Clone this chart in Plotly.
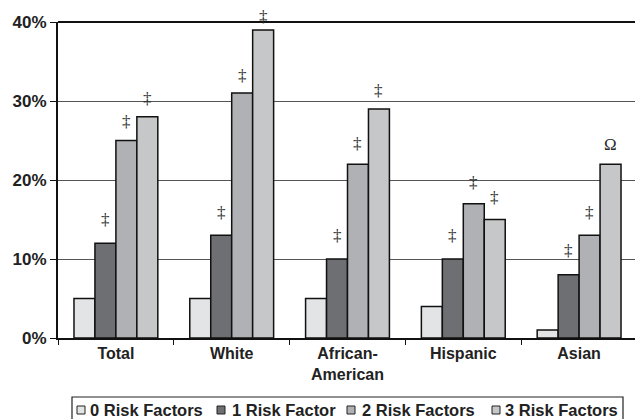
import plotly.graph_objects as go

categories = ["Total", "White", "African-<br>American", "Hispanic", "Asian"]
series_names = ["0 Risk Factors", "1 Risk Factor", "2 Risk Factors", "3 Risk Factors"]
risk0 = [5, 5, 5, 4, 1]
risk1 = [12, 13, 10, 10, 8]
risk2 = [25, 31, 22, 17, 13]
risk3 = [28, 39, 29, 15, 22]
marks1 = ["‡", "‡", "‡", "‡", "‡"]
marks2 = ["‡", "‡", "‡", "‡", "‡"]
marks3 = ["‡", "‡", "‡", "‡", "Ω"]
y_ticks = [0, 10, 20, 30, 40]
y_tick_labels = ["0%", "10%", "20%", "30%", "40%"]

colors = ["#e3e4e6", "#6e6f73", "#b0b1b4", "#c6c7c9"]
values = [risk0, risk1, risk2, risk3]
marks = [None, marks1, marks2, marks3]

# the page body has an 8px margin; size the figure so it fills the window
OFF = 8
W, H = 643 - OFF, 419 - OFF
L, R, T, B = 58 - OFF, 6, 22 - OFF, 81
PW, PH = W - L - R, H - T - B
YMAX = 40


def px(x):
    return (x - OFF - L) / PW


def py(y):
    return (H - B - (y - OFF)) / PH


bargap = 0.276
fig = go.Figure()
for name, vals, col in zip(series_names, values, colors):
    fig.add_trace(go.Bar(
        x=categories, y=vals, name=name, showlegend=False,
        marker=dict(color=col, line=dict(color="#111111", width=1.5)),
    ))

w = (1 - bargap) / 4
annotations = []
shapes = []
MARK_SIZE = 17
for j in range(1, 4):
    for i, (v, m) in enumerate(zip(values[j], marks[j])):
        omega = (m == "Ω")
        # keep the mark's text box inside the figure
        room = T + PH * (1 - v / YMAX) - 1.16 * MARK_SIZE
        shift = 8 if omega else min(round(15 - 0.28 * v), int(room))
        annotations.append(dict(
            x=i + (j - 1.5) * w, y=v, xref="x", yref="y",
            text=m, showarrow=False, yanchor="bottom", yshift=shift,
            font=dict(family="Liberation Serif, Times New Roman, serif",
                      size=MARK_SIZE, color="#2a2a2a"),
        ))

# legend (manual, compact like the original)
legend_sym_x = [77, 217, 347, 492]
legend_txt_x = [89, 231, 361, 504]
shapes.append(dict(type="rect", xref="paper", yref="paper",
                   x0=px(72), x1=px(623), y0=py(425), y1=py(397),
                   line=dict(color="#222222", width=1.2), fillcolor="rgba(0,0,0,0)"))
for name, col, sx, tx in zip(series_names, colors, legend_sym_x, legend_txt_x):
    shapes.append(dict(type="rect", xref="paper", yref="paper",
                       x0=px(sx), x1=px(sx + 8), y0=py(414), y1=py(406),
                       line=dict(color="#222222", width=1), fillcolor=col))
    annotations.append(dict(
        x=px(tx - 1), y=py(410), xref="paper", yref="paper", text=name,
        showarrow=False, xanchor="left", yanchor="middle",
        font=dict(family="Liberation Sans, Arial, sans-serif", size=16.5,
                  color="#222222", weight="bold"),
    ))

shapes += [
    dict(type="line", xref="paper", yref="paper", x0=0, x1=1, y0=1, y1=1,
         line=dict(color="#111111", width=2)),
    dict(type="line", xref="paper", yref="paper", x0=1, x1=1, y0=0, y1=1,
         line=dict(color="#333333", width=1)),
]

fig.update_layout(
    width=W, height=H,
    margin=dict(l=L, r=R, t=T, b=B),
    barmode="group", bargap=bargap, bargroupgap=0,
    plot_bgcolor="white", paper_bgcolor="white",
    font=dict(family="Liberation Sans, Arial, sans-serif", size=16, color="#222222"),
    showlegend=False,
    annotations=annotations,
    shapes=shapes,
)
fig.update_xaxes(
    type="category", showline=True, linecolor="#111111", linewidth=2,
    ticks="outside", tickson="boundaries", ticklen=5, tickcolor="#111111",
    tickfont=dict(size=16, family="Liberation Sans, Arial, sans-serif", weight="bold"),
    showgrid=False, automargin=False,
)
fig.update_yaxes(
    range=[0, YMAX], tickvals=y_ticks, ticktext=y_tick_labels,
    showline=True, linecolor="#111111", linewidth=2,
    ticks="outside", ticklen=6, tickcolor="#111111",
    showgrid=True, gridcolor="#555555", gridwidth=1,
    tickfont=dict(size=17, family="Liberation Sans, Arial, sans-serif", weight="bold"),
    zeroline=False, automargin=False,
)

fig.write_html("out.html")
